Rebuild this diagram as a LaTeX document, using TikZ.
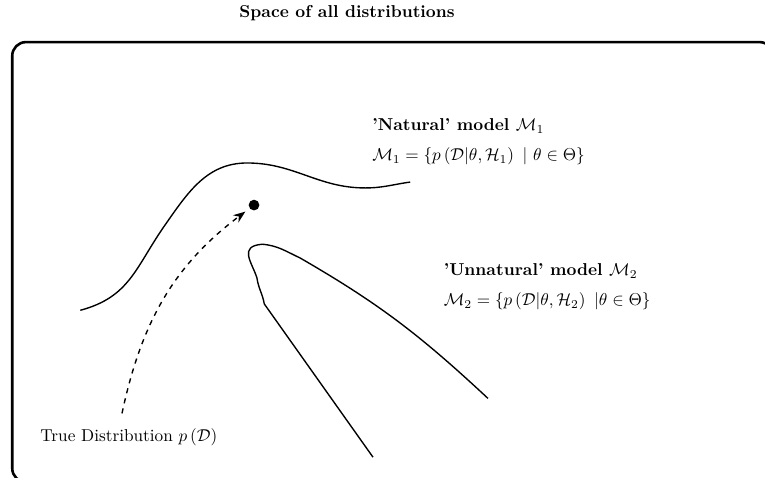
\documentclass[tikz,border=0pt]{standalone}
\usepackage{amsmath}
\usepackage{amssymb}
\usetikzlibrary{arrows.meta, positioning}

\begin{document}
\begin{tikzpicture}[
  txt/.style={inner sep=0pt, anchor=west},
  head/.style={txt, font=\bfseries},
  frame/.style={line width=1.5pt, rounded corners=8pt},
  curve/.style={line width=0.8pt},
  dotnd/.style={circle, fill, inner sep=2.2pt},
  darr/.style={-{Stealth[length=7pt]}, dashed, line width=0.8pt},
]
  \useasboundingbox (0,0) rectangle (15.63,9.75);
  \clip (0,0) rectangle (15.63,9.75);
  \draw[frame] (0.25,-0.1) rectangle (15.8,8.89);

  \node[font=\bfseries] (title) at (7.09,9.48) {Space of all distributions};

  % model headings and definitions
  \node[head] (nat) at (7.60,7.17) {'Natural' model $\mathcal{M}_1$};
  \node[txt, below=8pt of nat.south west, anchor=north west] (natdef)
    {$\mathcal{M}_1 = \{p\left(\mathcal{D}|\theta,\mathcal{H}_1\right)\ |\ \theta\in\Theta\}$};
  \node[head] (unnat) at (9.06,4.21) {'Unnatural' model $\mathcal{M}_2$};
  \node[txt, below=8pt of unnat.south west, anchor=north west] (unnatdef)
    {$\mathcal{M}_2 = \{p\left(\mathcal{D}|\theta,\mathcal{H}_2\right)\ |\theta\in\Theta\}$};

  % the two model manifolds
  \draw[curve] (1.64,3.41) to[out=15, in=235, looseness=1.1] (3.37,5.15)
    to[out=55, in=180] (5.05,6.42) to[out=0, in=180] (7.46,5.91)
    to[out=0, in=188] (8.38,6.03);
  \draw[curve] (7.62,0.41) -- (5.40,3.54) to[out=100, in=-82] (5.25,4.07)
    .. controls (5.15,4.39) and (4.86,4.72) .. (5.36,4.76)
    to[out=-5, in=155] (6.13,4.48) to[out=-30, in=137] (9.97,1.61);

  \node[dotnd] (pt) at (5.19,5.56) {};
  \node[txt] (td) at (0.82,0.82) {True Distribution $p\left(\mathcal{D}\right)$};
  \coordinate (tds) at ([xshift=-0.14cm, yshift=0.3cm]td.north);
  \draw[darr, shorten >=3pt] (tds) to[out=78, in=217] (pt);
\end{tikzpicture}
\end{document}
